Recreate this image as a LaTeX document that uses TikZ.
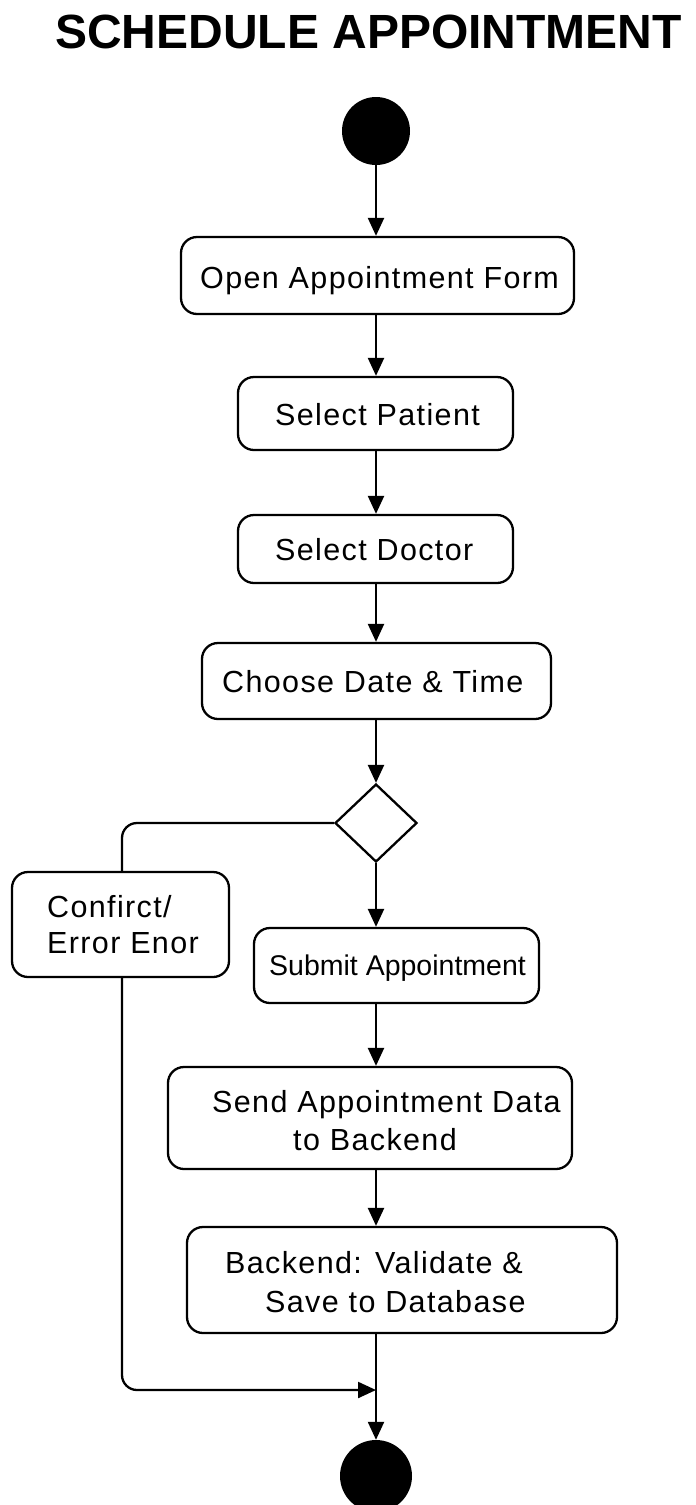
\documentclass[tikz,border=0pt]{standalone}
\usepackage{fontspec}
\setmainfont{Liberation Sans}
\newfontfamily\boxfont{Liberation Sans}[LetterSpace=4.5]
\usetikzlibrary{arrows.meta,shapes.geometric}
\tikzset{
  line/.style={line width=2.3pt, draw=black},
  arr/.style={line, -{Triangle[length=18pt,width=16pt]}},
  actbox/.style={draw, line width=2.3pt, rounded corners=16pt, inner sep=0pt},
  txt/.style={inner sep=0pt, anchor=base west, font=\boxfont\fontsize{30.5}{30.5}\selectfont},
  smalltxt/.style={inner sep=0pt, anchor=base west, font=\fontsize{28.5}{28.5}\selectfont},
  dot/.style={circle, fill=black, inner sep=0pt},
  decision/.style={diamond, draw, line width=2.3pt, inner sep=0pt}
}
\begin{document}
\begin{tikzpicture}[x=1pt,y=-1pt]
\useasboundingbox (0,0) rectangle (696,1505);
\fill[white] (0,0) rectangle (696,1505);

\node (title) [anchor=base west, inner sep=0pt, font=\bfseries\fontsize{48}{48}\selectfont] at (55,48) {SCHEDULE APPOINTMENT};

\node (start) [dot, minimum size=68pt] at (376,131) {};

\node (b1) [actbox, minimum width=393pt, minimum height=77pt] at (377.5,275.5) {};
\node (b1t) [txt] at (200,288) {Open Appointment Form};

\node (b2) [actbox, minimum width=275pt, minimum height=73pt] at (375.5,413.5) {};
\node (b2t) [txt] at (275,425) {Select Patient};

\node (b3) [actbox, minimum width=275pt, minimum height=68pt] at (375.5,549) {};
\node (b3t) [txt] at (275,560) {Select Doctor};

\node (b4) [actbox, minimum width=349pt, minimum height=76pt] at (376.5,681) {};
\node (b4t) [txt] at (222,692) {Choose Date \& Time};

\node (dec) [decision, minimum width=82pt, minimum height=78pt] at (376,823) {};

\node (conf) [actbox, minimum width=217pt, minimum height=105pt] at (120.5,924.5) {};
\node (conft1) [txt] at (47,917) {Confirct/};
\node (conft2) [txt] at (47,953) {Error Enor};

\node (sub) [actbox, minimum width=285pt, minimum height=75pt] at (396.5,965.5) {};
\node (subt) [smalltxt] at (269,975) {Submit Appointment};

\node (send) [actbox, minimum width=404pt, minimum height=102pt] at (370,1118) {};
\node (sendt1) [txt] at (212,1112) {Send Appointment Data};
\node (sendt2) [txt] at (293,1150) {to Backend};

\node (back) [actbox, minimum width=430pt, minimum height=106pt] at (402,1280) {};
\node (backt1) [txt] at (225,1273) {Backend: Validate \&};
\node (backt2) [txt] at (265,1312) {Save to Database};

\node (end) [dot, minimum size=72pt] at (376,1476) {};

\coordinate (cl) at (122,823);
\coordinate (cb) at (122,1390);
\coordinate (merge) at (376,1390);

\draw[arr] (start.south) -- (b1.north -| start);
\draw[arr] (b1.south -| start) -- (b2.north -| start);
\draw[arr] (b2.south -| start) -- (b3.north -| start);
\draw[arr] (b3.south -| start) -- (b4.north -| start);
\draw[arr] (b4.south -| start) -- (dec.north);
\draw[arr] (dec.south) -- (sub.north -| start);
\draw[arr] (sub.south -| start) -- (send.north -| start);
\draw[arr] (send.south -| start) -- (back.north -| start);
\draw[arr] (back.south -| start) -- (end.north);
\draw[line, rounded corners=15pt] (dec.west) -- (cl) -- (conf.north -| cl);
\draw[arr, rounded corners=15pt] (conf.south -| cl) -- (cb) -- (merge);
\end{tikzpicture}
\end{document}
